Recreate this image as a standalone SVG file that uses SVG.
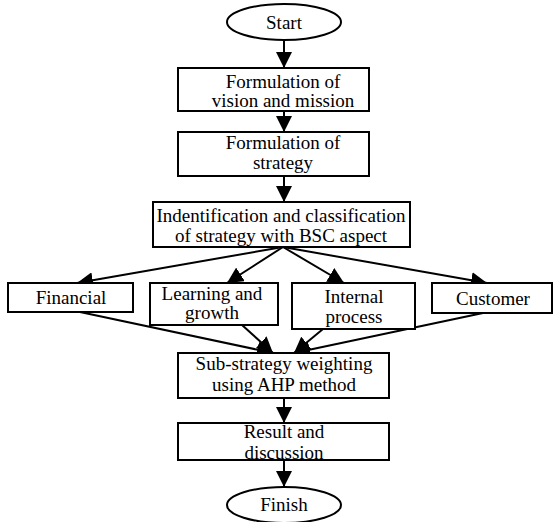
<svg xmlns="http://www.w3.org/2000/svg" width="554" height="522" viewBox="0 0 554 522">
  <style>
    .box { fill: #ffffff; stroke: #000000; stroke-width: 2; }
    .lbl { font-family: "Liberation Serif", "Times New Roman", serif; font-size: 19px; fill: #000000; text-anchor: middle; }
    .edge { fill: none; stroke: #000000; stroke-width: 2; marker-end: url(#arrow); }
  </style>
  <defs>
    <marker id="arrow" markerUnits="userSpaceOnUse" viewBox="0 0 16 16" refX="16" refY="8" markerWidth="16" markerHeight="16" orient="auto">
      <path d="M0,0 L16,8 L0,16 z" fill="#000000"/>
    </marker>
  </defs>
  <rect width="554" height="522" fill="#ffffff"/>

  <g id="connectors">
    <line class="edge" x1="284" y1="40" x2="284" y2="68"/>
    <line class="edge" x1="284" y1="111" x2="284" y2="132"/>
    <line class="edge" x1="284" y1="176" x2="284" y2="202"/>
    <line class="edge" x1="283" y1="247" x2="77" y2="283"/>
    <line class="edge" x1="283" y1="247" x2="227" y2="283"/>
    <line class="edge" x1="283" y1="247" x2="344" y2="283"/>
    <line class="edge" x1="283" y1="247" x2="487" y2="283"/>
    <line class="edge" x1="80" y1="312" x2="273" y2="353"/>
    <line class="edge" x1="242" y1="325" x2="273" y2="353"/>
    <line class="edge" x1="323" y1="329" x2="294" y2="353"/>
    <line class="edge" x1="483" y1="313" x2="294" y2="353"/>
    <line class="edge" x1="284" y1="398" x2="284" y2="423"/>
    <line class="edge" x1="284" y1="460" x2="284" y2="487"/>
  </g>

  <g id="start">
    <ellipse class="box" cx="284" cy="22" rx="57" ry="18"/>
    <text class="lbl" x="284" y="29">Start</text>
  </g>

  <g id="vision-mission">
    <rect class="box" x="178" y="68" width="191" height="43"/>
    <text class="lbl" x="283" y="88">Formulation of</text>
    <text class="lbl" x="283" y="107">vision and mission</text>
  </g>

  <g id="strategy">
    <rect class="box" x="178" y="132" width="191" height="44"/>
    <text class="lbl" x="283" y="149">Formulation of</text>
    <text class="lbl" x="283" y="169">strategy</text>
  </g>

  <g id="classification">
    <rect class="box" x="153" y="202" width="257" height="45"/>
    <text class="lbl" x="281" y="222">Indentification and classification</text>
    <text class="lbl" x="281" y="242">of strategy with BSC aspect</text>
  </g>

  <g id="financial">
    <rect class="box" x="8" y="283" width="125" height="29"/>
    <text class="lbl" x="71" y="304">Financial</text>
  </g>

  <g id="learning-growth">
    <rect class="box" x="150" y="283" width="128" height="42"/>
    <text class="lbl" x="212" y="300">Learning and</text>
    <text class="lbl" x="212" y="319">growth</text>
  </g>

  <g id="internal-process">
    <rect class="box" x="292" y="283" width="123" height="46"/>
    <text class="lbl" x="354" y="303">Internal</text>
    <text class="lbl" x="354" y="323">process</text>
  </g>

  <g id="customer">
    <rect class="box" x="432" y="283" width="120" height="30"/>
    <text class="lbl" x="493" y="305">Customer</text>
  </g>

  <g id="ahp-weighting">
    <rect class="box" x="178" y="353" width="211" height="45"/>
    <text class="lbl" x="284" y="370">Sub-strategy weighting</text>
    <text class="lbl" x="284" y="391">using AHP method</text>
  </g>

  <g id="result">
    <rect class="box" x="178" y="423" width="211" height="37"/>
    <text class="lbl" x="284" y="438">Result and</text>
    <text class="lbl" x="284" y="459">discussion</text>
  </g>

  <g id="finish">
    <ellipse class="box" cx="284" cy="505" rx="57" ry="18"/>
    <text class="lbl" x="284" y="511">Finish</text>
  </g>
</svg>
